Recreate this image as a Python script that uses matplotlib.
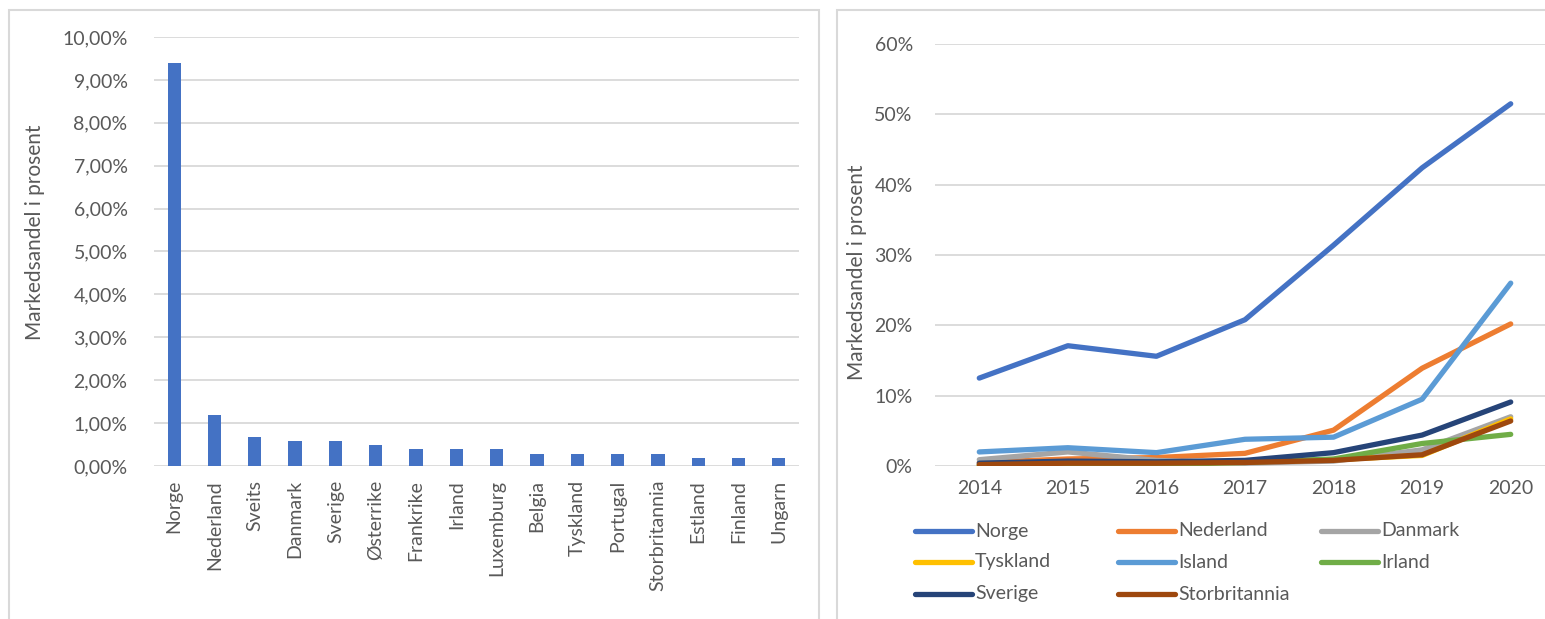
import matplotlib
matplotlib.use("Agg")
import matplotlib.pyplot as plt
from matplotlib.lines import Line2D
from matplotlib.patches import Rectangle
from matplotlib.ticker import FuncFormatter

# --- data -------------------------------------------------------------
countries = ["Norge", "Nederland", "Sveits", "Danmark", "Sverige", "Østerrike",
             "Frankrike", "Irland", "Luxemburg", "Belgia", "Tyskland", "Portugal",
             "Storbritannia", "Estland", "Finland", "Ungarn"]
share_pct = [9.40, 1.20, 0.68, 0.59, 0.59, 0.48, 0.39, 0.39, 0.39,
             0.27, 0.27, 0.27, 0.27, 0.18, 0.18, 0.18]

years = ["2014", "2015", "2016", "2017", "2018", "2019", "2020"]
norge = [0.125, 0.171, 0.156, 0.208, 0.314, 0.424, 0.515]
nederland = [0.005, 0.010, 0.012, 0.018, 0.051, 0.139, 0.202]
danmark = [0.009, 0.020, 0.008, 0.004, 0.007, 0.023, 0.070]
tyskland = [0.001, 0.001, 0.003, 0.006, 0.009, 0.015, 0.067]
island = [0.020, 0.026, 0.019, 0.038, 0.041, 0.095, 0.260]
irland = [0.001, 0.002, 0.002, 0.005, 0.010, 0.032, 0.045]
sverige = [0.004, 0.007, 0.006, 0.008, 0.019, 0.044, 0.091]
storbritannia = [0.002, 0.004, 0.004, 0.005, 0.008, 0.016, 0.064]

series_names = ["Norge", "Nederland", "Danmark", "Tyskland", "Island",
                "Irland", "Sverige", "Storbritannia"]
series_vals = [norge, nederland, danmark, tyskland, island, irland, sverige, storbritannia]
series_colors = ["#4472C4", "#ED7D31", "#A5A5A5", "#FFC000", "#5B9BD5",
                 "#70AD47", "#264478", "#9E480E"]

# --- style ------------------------------------------------------------
plt.rcParams["font.family"] = ["Lato", "DejaVu Sans"]
TXT = "#595959"
GRID = "#D9D9D9"
FS = 14
LW = 3.8

W, H = 1545, 619
fig = plt.figure(figsize=(W / 100, H / 100), dpi=100)


def fx(px):
    return px / W


def fy(py):
    return 1 - py / H


# panel borders
for x0, x1 in [(9, 819), (837, 1600)]:
    fig.add_artist(Rectangle((fx(x0), fy(700)), fx(x1 - x0), fy(10) - fy(700),
                             transform=fig.transFigure, fill=False,
                             edgecolor=GRID, lw=1.5))


def style(ax):
    for s in ax.spines.values():
        s.set_visible(False)
    ax.tick_params(length=0, colors=TXT, labelsize=FS)
    ax.yaxis.grid(True, color=GRID, lw=1.3)
    ax.set_axisbelow(True)


# --- left: bar chart ----------------------------------------------------
ax1 = fig.add_axes([fx(154), fy(466), fx(799 - 154), fy(37) - fy(466)])
style(ax1)
ax1.bar(range(len(countries)), share_pct, width=0.33, color="#4472C4")
ax1.set_xlim(-0.5, len(countries) - 0.5)
ax1.set_ylim(0, 10)
ax1.set_yticks(range(0, 11))
ax1.yaxis.set_major_formatter(FuncFormatter(lambda v, p: f"{v:.2f}%".replace(".", ",")))
ax1.set_xticks(range(len(countries)))
ax1.set_xticklabels(countries, rotation=90)
ax1.tick_params(axis="y", pad=19)
ax1.tick_params(axis="x", pad=10)
fig.text(fx(35), fy(232), "Markedsandel i prosent", rotation=90,
         ha="center", va="center", color=TXT, fontsize=15)

# --- right: line chart --------------------------------------------------
ax2 = fig.add_axes([fx(935), fy(466), fx(1555 - 935), fy(44) - fy(466)])
style(ax2)
for name, vals, col in zip(series_names, series_vals, series_colors):
    ax2.plot(range(len(years)), vals, color=col, lw=LW, solid_capstyle="round",
             solid_joinstyle="round", label=name)
ax2.set_xlim(-0.5, len(years) - 0.5)
ax2.set_ylim(0, 0.6)
ax2.set_yticks([i / 10 for i in range(7)])
ax2.yaxis.set_major_formatter(FuncFormatter(lambda v, p: f"{v * 100:.0f}%"))
ax2.set_xticks(range(len(years)))
ax2.set_xticklabels(years)
ax2.tick_params(axis="y", pad=16)
ax2.tick_params(axis="x", pad=10)
fig.text(fx(857), fy(272), "Markedsandel i prosent", rotation=90,
         ha="center", va="center", color=TXT, fontsize=15)

# legend laid out row-wise like Excel
col_x = [915, 1118, 1321]
row_y = [531, 562, 594]
for i, (name, col) in enumerate(zip(series_names, series_colors)):
    r, c = divmod(i, 3)
    x0 = col_x[c]
    y0 = row_y[r]
    fig.add_artist(Line2D([fx(x0), fx(x0 + 57)], [fy(y0), fy(y0)],
                          transform=fig.transFigure, color=col, lw=LW,
                          solid_capstyle="round"))
    fig.text(fx(x0 + 60), fy(y0), name, ha="left", va="center",
             color=TXT, fontsize=FS)

fig.savefig("out.png", dpi=100)
